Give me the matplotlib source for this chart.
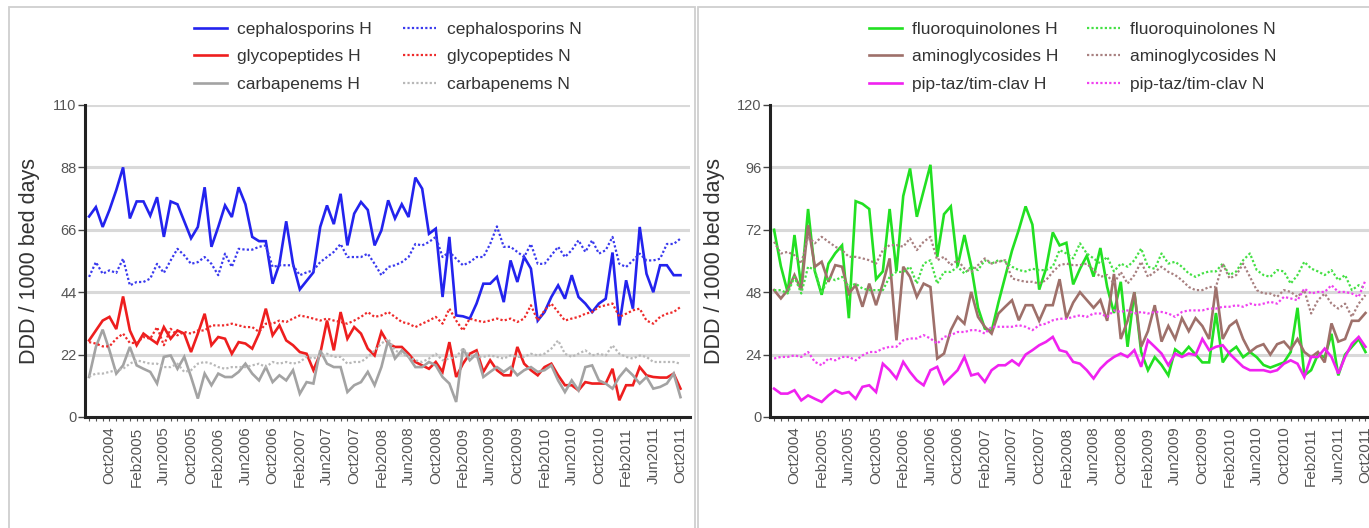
import matplotlib
matplotlib.use("Agg")
import matplotlib.pyplot as plt
from matplotlib.patches import Rectangle

plt.rcParams['font.family'] = ['Liberation Sans', 'DejaVu Sans']

# ---------------- data ----------------
tick_labels = ["Oct2004", "Feb2005", "Jun2005", "Oct2005", "Feb2006", "Jun2006",
               "Oct2006", "Feb2007", "Jun2007", "Oct2007", "Feb2008", "Jun2008",
               "Oct2008", "Feb2009", "Jun2009", "Oct2009", "Feb2010", "Jun2010",
               "Oct2010", "Feb2011", "Jun2011", "Oct2011"]

ceph_H = [70.7, 74, 67, 73, 80, 88, 70, 76, 76, 71, 77.5, 63.5, 76, 75, 69, 63, 67, 81, 60, 67,
          74.6, 70.5, 81, 75, 63.5, 62, 62, 47, 54, 69, 54, 45, 48, 51, 67, 74.6, 68, 78.7, 60.5, 71.7,
          75.8, 73, 60.5, 65.8, 76.4, 70, 75, 70.5, 84.4, 80.5, 64.6, 66.4, 42.3, 63.5, 35.8, 35.5, 34.7, 40, 47, 47,
          49.4, 40.5, 55.2, 47.6, 56.4, 52.3, 34, 37, 42.3, 46.4, 41.7, 50, 42.3, 40, 37, 40, 41.7, 58, 32.3, 48.2,
          38.2, 67, 50.5, 44, 53.5, 53.5, 50, 50]
ceph_N = [49.4, 54.6, 50.5, 51.7, 50.8, 55.8, 46.4, 47.6, 47.6, 48.8, 54, 50.8, 55.2, 59.3, 57, 54, 54.6, 56.4, 54, 50,
          57.6, 52.9, 59.3, 59, 59, 60, 60.5, 52.9, 53.5, 53.5, 53.5, 50, 51, 51.7, 54.6, 56.4, 58.2, 61, 56.4, 56.4,
          56.4, 57.6, 54, 50, 52.9, 53.5, 54.6, 56.4, 61, 60.5, 61.7, 63.5, 56.4, 58.2, 55.8, 53.5, 54.6, 56.4, 56.4, 61,
          67.2, 60, 60, 58.2, 56.4, 61, 54, 54, 57, 60, 56.4, 58.8, 62.3, 58.2, 62.3, 57.6, 58.8, 63.5, 54, 52.9,
          55.2, 57.6, 55.2, 55.2, 55.8, 61, 61, 62.9]
gly_H = [27, 30.5, 34, 35.3, 31, 42.5, 30.5, 25.3, 29.4, 27.6, 25.9, 31.7, 27.6, 30.5, 29.4, 22.9, 29.4, 36.4, 25.3, 28.2,
         27.6, 22.3, 26.4, 25.9, 24.1, 29.4, 38.2, 28.8, 32.3, 27, 25.3, 22.9, 22.3, 16.5, 22.3, 34, 23.5, 37, 27.6, 31.7,
         29.4, 24.1, 21.7, 30, 25.9, 24.7, 24.7, 22.3, 19.4, 18.2, 17, 19.4, 15.9, 26.4, 14.1, 18.8, 22.3, 23.5, 15.9, 20,
         16.5, 14.7, 14.7, 24.7, 18.8, 16.5, 14.7, 17.6, 18.8, 14.7, 11.2, 11.2, 9.4, 12.3, 11.8, 11.8, 11.8, 17, 5.9, 11.2,
         11.2, 17.6, 14.7, 14.1, 13.9, 13.9, 15.3, 10]
gly_N = [26.4, 25.9, 24.9, 24.9, 27.6, 29.4, 26.1, 26.1, 28.2, 27.6, 31.7, 25.3, 31.1, 28.8, 30, 29.4, 30.5, 30.5, 32.3, 32.3,
         32.3, 32.9, 32.3, 31.7, 31.7, 30, 32.9, 32.9, 34, 33.5, 34.7, 35.8, 35.3, 34.7, 34, 34.7, 34, 33.5, 32.9, 34,
         35.3, 37, 35.3, 35.8, 37, 35.3, 33.5, 32.9, 31.7, 32.9, 34, 35.3, 32.9, 38.2, 34, 30.5, 34.7, 34, 33.5, 34,
         34.7, 34, 34.7, 33.5, 34.7, 39.4, 34, 37.6, 40, 37, 34, 34.7, 35.3, 36.4, 37, 38.8, 39.4, 40, 35.3, 36.4,
         37.6, 38.2, 34, 32.9, 35.3, 36.4, 37, 38.8]
carb_H = [14.1, 24.7, 30.8, 23.5, 15.3, 18.2, 24.7, 18.2, 17, 15.9, 11.8, 21.2, 21.7, 17, 21.2, 14.1, 6.5, 15.3, 11.2, 15.3,
          14.1, 14.1, 15.9, 18.8, 15.3, 12.9, 17.6, 12.3, 14.7, 12.9, 16.5, 8.2, 12.3, 11.8, 23.5, 18.8, 17.6, 17.6, 8.8, 11.2,
          12.3, 15.9, 11.2, 17.6, 27, 20.6, 23.5, 21.2, 17.6, 17.6, 19.4, 18.2, 14.1, 11.8, 5.3, 24.1, 20, 22.3, 14.1, 15.9,
          17.6, 15.9, 17.6, 14.7, 16.5, 17.6, 15.9, 16.5, 18.2, 12.9, 8.8, 12.9, 9.4, 17.6, 18.2, 12.9, 11.8, 10, 14.1, 17,
          14.7, 11.8, 14.1, 10, 10.6, 11.8, 15.3, 7]
carb_N = [14.3, 15.3, 15.3, 15.9, 16.5, 17, 18.8, 20, 19.4, 18.8, 18.8, 17.6, 17.6, 18.8, 15.9, 16.5, 18.8, 19.4, 18.8, 17.6,
          17, 17.6, 17.6, 17.6, 18.2, 18.8, 17.6, 19.4, 18.8, 19.4, 18.8, 19.4, 21.2, 20.6, 21.7, 22.3, 21.2, 21.2, 18.8, 19.4,
          19.4, 21.2, 23.5, 25.9, 27.6, 23.5, 22.3, 21.2, 20, 19.4, 20.6, 22.3, 20, 20.6, 21.2, 24.1, 21.7, 21.2, 21.2, 21.7,
          21.2, 20.6, 21.7, 21.2, 21.2, 22.3, 21.7, 22.3, 24.1, 27, 22.3, 21.2, 22.3, 23.5, 21.7, 22.3, 21.7, 25.3, 22.3, 21.2,
          20.6, 21.7, 21.2, 19.4, 19.4, 19.4, 19.4, 18.8]

fq_H = [72, 58, 48, 70, 50, 80, 56, 47, 59, 63, 66, 38, 83, 82, 80, 53, 56, 80, 56, 85,
        95.6, 77, 87, 97, 61.6, 78, 81, 58, 70, 58, 42, 34, 33, 44, 54, 64, 72, 81, 74, 49,
        57, 71, 66, 67, 51, 57, 62, 54, 65, 50, 40, 52, 27, 48, 25, 18, 23, 20, 16, 26,
        24, 27, 24, 21, 21, 40, 21, 25, 27, 23, 25, 23, 20, 19, 20, 21, 25, 42, 16, 18,
        24, 23, 32, 16, 24, 27, 30, 25]
fq_N = [48.8, 48.8, 47.5, 53.9, 47.5, 57.8, 56.5, 47.5, 53.9, 52.6, 53.9, 50, 51.3, 49.4, 48.8, 48.8, 48.8, 53.9, 55.8, 55.8,
        57.8, 51.3, 59, 60.3, 51.3, 55.8, 55.8, 57.8, 55.2, 57.8, 56.5, 60.3, 59, 60.3, 59.7, 57.8, 56.5, 56, 57, 56.5,
        56.5, 57.8, 64.2, 62.9, 61, 66.8, 62.9, 61, 59, 61.6, 56, 59, 57.8, 60.3, 64.8, 57.8, 57, 62.9, 59, 59.7,
        57.8, 55.2, 53.9, 55.2, 56, 56, 59, 54.6, 56, 60.3, 62.9, 56.5, 54.6, 53.9, 56.5, 56, 51.3, 54.6, 59.7, 57.1,
        56, 54.6, 56.5, 52.6, 54.6, 48.8, 50.7, 49.4]
ag_H = [48.8, 45.6, 48.8, 54.6, 48.8, 73.8, 57.8, 59.7, 52, 58.4, 57.8, 47.5, 50.7, 42.4, 51.3, 43, 51.3, 61, 29.5, 57.8,
        53.9, 46.2, 51.3, 50, 22.5, 24.4, 33.4, 38.5, 35.9, 48.1, 38.5, 34.7, 32.1, 39.8, 42.4, 44.9, 37.2, 43, 43, 37,
        43, 43, 53, 38, 44, 48, 45, 42, 45, 37, 55, 30, 37, 48, 27, 33, 43, 29, 35, 30,
        38, 33, 38, 35, 30, 50, 30, 35, 37, 30, 25, 27, 28, 24, 28, 29, 26, 30, 25, 23,
        25, 21, 36, 29, 30, 37, 37, 40]
ag_N = [67.4, 62.9, 63.5, 62.2, 59, 69.3, 66.8, 69.3, 67.4, 65.5, 64.2, 61.6, 61.6, 61, 60.3, 59, 64.2, 66.1, 66.1, 65.5,
        68.7, 64.2, 67.4, 69.3, 60.3, 61.6, 58.4, 60.3, 57.1, 55.8, 58.4, 61, 59, 59.7, 60.3, 53.3, 52.6, 52, 52, 51.3,
        52.6, 55.8, 58.4, 59, 58.4, 58.4, 59, 56.5, 53.9, 54.6, 51.3, 55.8, 51.3, 54.6, 59.7, 53.9, 55.8, 57.8, 55.8, 54.6,
        52.6, 50, 48.8, 48.8, 50, 50, 59, 53.3, 54.6, 59, 53.9, 48.8, 47.5, 47.5, 46.2, 48.8, 48.1, 46.2, 48.8, 39.8,
        44.9, 47.5, 43.6, 41.7, 43.6, 38.5, 43.6, 46.9]
pt_H = [10.9, 9, 9, 10.3, 6.4, 8.3, 7, 5.8, 8.3, 10.3, 9, 9.6, 7, 11.6, 12.2, 9.6, 20.5, 18, 14.8, 21.2,
        17.3, 14.1, 12.2, 18, 19.3, 12.8, 15.4, 18, 23.1, 16, 16.7, 13.5, 18, 19.9, 19.9, 21.8, 19.9, 24, 25.7, 27.6,
        28.9, 30.8, 25.7, 25, 21.2, 20.5, 18, 14.8, 18.6, 21.2, 23.1, 24.4, 23.1, 25.7, 19.3, 29.5, 27, 24.4, 19.9, 24.4,
        23.1, 24.4, 23.8, 30, 25.7, 27, 27.6, 24.4, 21.8, 19.3, 18, 18, 18, 17.3, 18, 20.5, 21.8, 20.5, 15.4, 23.1,
        23.1, 26.3, 23.1, 16.7, 23.1, 28.2, 30.8, 27]
pt_N = [22.5, 23.1, 23.1, 23.7, 23.1, 25, 21.2, 19.9, 22.5, 21.8, 23.1, 23.1, 21.8, 23.7, 25, 25, 26.3, 27, 27, 29.5,
        30.2, 30.2, 31.5, 30.2, 28.2, 30.8, 31.5, 32.7, 32.7, 33.4, 33.4, 32.1, 34.7, 34.7, 34.7, 34.7, 35.3, 34.7, 33.4, 35.3,
        35.9, 37.2, 37.8, 37.8, 38.5, 39.1, 38.5, 39.8, 39.8, 38.5, 41, 40.4, 41, 39.8, 40.4, 39.8, 40.4, 40.4, 39.8, 38.5,
        40.4, 41, 41, 41, 41.7, 41.7, 42.4, 42.4, 43, 42.4, 43.6, 43, 43.6, 44.3, 43.6, 46.2, 45.6, 44.9, 49.4, 47.5,
        48.1, 48.1, 50.7, 48.1, 48.1, 47.5, 46.2, 52.6]

left_series = [("cephalosporins", ceph_H, ceph_N, "#2323ee", "#3a3aee"),
               ("glycopeptides", gly_H, gly_N, "#ee1e1e", "#ee2a2a"),
               ("carbapenems", carb_H, carb_N, "#a3a3a3", "#b8b8b8")]
right_series = [("fluoroquinolones", fq_H, fq_N, "#22e022", "#44e044"),
                ("aminoglycosides", ag_H, ag_N, "#9e706a", "#a88080"),
                ("pip-taz/tim-clav", pt_H, pt_N, "#f022f0", "#f040f0")]
left_yticks = [0, 22, 44, 66, 88, 110]
right_yticks = [0, 24, 48, 72, 96, 120]
ylabel = "DDD / 1000 bed days"

# ---------------- figure ----------------
W, H = 1369, 528
fig = plt.figure(figsize=(W / 100, H / 100), dpi=100)
fig.patch.set_facecolor("white")

# panel frames
for x0, x1 in [(9, 695), (698, 1380)]:
    fig.add_artist(Rectangle((x0 / W, -0.05), (x1 - x0) / W, (H - 7) / H + 0.05,
                             transform=fig.transFigure, fill=False,
                             edgecolor="#cfcfcf", lw=1.3))

ax_h = 312 / H
ax_b = (H - 417) / H


def make_panel(left_px, series, yticks, legend_x, colspace):
    ax = fig.add_axes([left_px / W, ax_b, 605 / W, ax_h])
    n = len(series[0][1])
    x = list(range(n))
    handles_H, handles_N = [], []
    for name, hv, nv, ch, cn in series:
        l, = ax.plot(x, hv, color=ch, lw=1.9, solid_joinstyle="miter", label=name + " H", zorder=3)
        handles_H.append(l)
    for name, hv, nv, ch, cn in series:
        l, = ax.plot(x, nv, color=cn, lw=1.6, linestyle=(0, (1, 1)), label=name + " N", zorder=4)
        handles_N.append(l)
    ax.set_ylim(yticks[0], yticks[-1])
    ax.set_yticks(yticks)
    ax.set_xlim(-0.6, 88.4)
    ax.set_xticks(list(range(3, n, 4)))
    ax.set_xticklabels(tick_labels, rotation=90, fontsize=11, color="#555555")
    ax.set_xticks(list(range(n)), minor=True)
    ax.tick_params(axis="x", which="both", length=3, width=0.8, color="#555555", pad=4)
    ax.tick_params(axis="y", length=5, width=1, color="#444444", labelsize=10.5,
                   labelcolor="#555555", pad=1)
    ax.grid(axis="y", color="#d9d9d9", lw=2.2, zorder=0)
    ax.set_axisbelow(True)
    for s in ("top", "right"):
        ax.spines[s].set_visible(False)
    for s in ("left", "bottom"):
        ax.spines[s].set_linewidth(2.2)
        ax.spines[s].set_color("#222222")
        ax.spines[s].set_zorder(5)
    ax.set_ylabel(ylabel, fontsize=15.5, color="#333333")
    ax.yaxis.set_label_coords(-0.075, 0.5)
    fig.legend(handles_H + handles_N, [h.get_label() for h in handles_H + handles_N],
               ncol=2, loc="upper left", bbox_to_anchor=(legend_x / W, (H - 22) / H),
               frameon=False, fontsize=12.5, handlelength=1.9, handletextpad=0.6,
               columnspacing=colspace, labelspacing=0.7, borderpad=0, borderaxespad=0,
               labelcolor="#333333")
    return ax


make_panel(85, left_series, left_yticks, 194, 1.8)
make_panel(770, right_series, right_yticks, 869, 1.6)

fig.savefig("out.png", dpi=100)
